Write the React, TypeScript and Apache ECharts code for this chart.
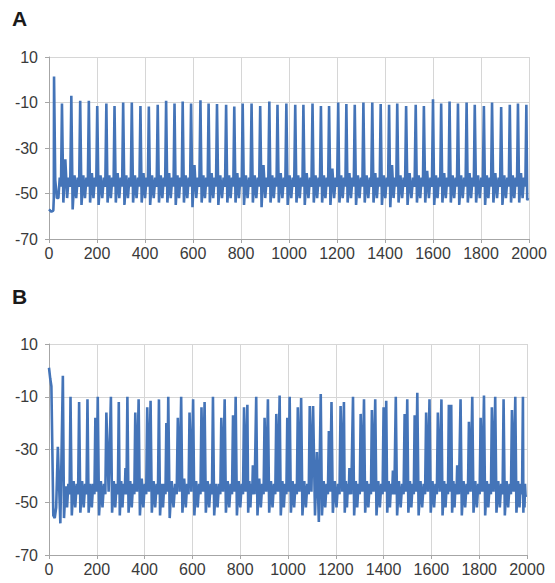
import React, { useEffect, useRef } from "react";
import * as echarts from "echarts";

// ---- axes ----
const X_MIN = 0;
const X_MAX = 2000;
const X_STEP = 200;
const Y_TICKS = [-70, -50, -30, -10, 10];
const Y_OFFSET = 70; // plotted value = mV + 70 so ticks start at a multiple of the step

// ---- panel A ----
const onsetTA = [0, 10, 18, 20];
const onsetVA = [-57, -58, -57.5, -52];
const spikeTA = [21, 54, 93, 130, 166, 201, 239, 273, 309, 345, 381, 416, 453, 488, 523, 557, 592, 631, 665, 700, 738, 772, 807, 844, 880, 918, 952, 989, 1026, 1060, 1098, 1133, 1167, 1205, 1239, 1274, 1310, 1347, 1382, 1417, 1451, 1488, 1528, 1562, 1600, 1634, 1669, 1704, 1740, 1774, 1812, 1846, 1884, 1920, 1954, 1989];
const spikePeakA = [1.4, -10.4, -7, -9.2, -9.2, -11.5, -10.4, -11.5, -10, -10, -11.5, -11.8, -11, -9.2, -10.4, -9.6, -10.4, -9, -10.4, -10.7, -11, -11.8, -10.4, -10.4, -11.5, -9.6, -11, -10.4, -11, -11, -10.4, -11.5, -11.5, -10, -10.7, -11, -10, -10, -10.7, -11, -10.4, -11.5, -11, -11.5, -8.6, -10.4, -9.6, -10.4, -10, -11, -11.5, -10, -12, -11, -10.4, -11];
const troughA = [-44, -54, -57, -55, -54, -55, -54, -54, -55, -54, -54, -55, -54, -54, -55, -54, -56, -54, -54, -55, -54, -54, -55, -54, -56, -54, -54, -55, -54, -55, -54, -54, -55, -54, -54, -55, -54, -54, -55, -56, -54, -55, -54, -54, -55, -54, -54, -55, -54, -54, -55, -54, -55, -54, -54, -53];
const bumpA: (number | null)[] = [-52, -35, -42, -42, -41, -42, -42, -41, -42, -42, -41, -42, -42, -41, -42, -42, -37.5, -42, -41, -42, -42, -41, -42, -42, -37.5, -42, -41, -42, -42, -41, -42, -42, -39, -42, -41, -42, -42, -41, -42, -37.5, -42, -41, -42, -40, -42, -41, -42, -42, -41, -42, -42, -41, -42, -42, -41, null];
const endA: [number, number] = [1996, -52];

// ---- panel B ----
const onsetTB = [0, 5, 10, 14, 18, 24, 30];
const onsetVB = [1, -3, -6, -30, -55, -56, -52];
const spikeTB = [37, 58, 90, 126, 161, 194, 204, 240, 259, 292, 320, 328, 361, 375, 411, 425, 460, 491, 499, 539, 553, 588, 603, 638, 651, 686, 721, 735, 770, 781, 816, 830, 853, 867, 902, 916, 951, 965, 997, 1007, 1041, 1055, 1091, 1105, 1121, 1137, 1171, 1182, 1220, 1234, 1257, 1272, 1304, 1318, 1351, 1365, 1400, 1411, 1439, 1451, 1488, 1499, 1530, 1541, 1578, 1592, 1627, 1642, 1673, 1683, 1708, 1722, 1757, 1771, 1806, 1820, 1853, 1867, 1902, 1937, 1951, 1983];
const spikePeakB = [-29, -2, -10, -12, -11, -18, -10, -16, -10, -12, -37, -10, -16, -11, -14, -11.5, -11, -20, -10, -18, -10, -16, -11, -14, -12, -10, -18, -11, -17, -10, -14, -13, -36, -10, -18, -11, -16.5, -9.5, -18, -10, -14, -10.5, -13.5, -13.5, -31, -9, -23, -12, -13.5, -12, -37, -10, -16.5, -11, -15, -11, -14, -11.5, -38, -10, -16.5, -11, -17, -8.5, -16, -11, -16, -11, -13, -13, -36, -11, -19.5, -10, -18, -9.5, -14, -10, -11, -15, -10, -10];
const troughB = [-58, -56, -55, -54, -54, -46, -55, -46, -54, -55, -47, -54, -46, -55, -46, -54, -55, -46, -56, -46, -54, -46, -55, -46, -54, -55, -46, -54, -46, -55, -46, -54, -47, -55, -46, -54, -46, -55, -46, -54, -46, -55, -46, -55, -57.5, -55, -46, -54, -46, -54, -47, -55, -46, -54, -46, -55, -46, -54, -47, -55, -46, -54, -46, -55, -46, -54, -46, -55, -46, -54, -47, -55, -46, -54, -46, -55, -46, -54, -55, -46, -54, -54];
const bumpB: (number | null)[] = [null, -44, -42, -42, -43, null, -42, null, -42, -42, null, -42, null, -41, null, -42, -43, null, -42, null, -41, null, -42, null, -42, -43, null, -42, null, -42, null, -42, null, -41, null, -42, null, -42, null, -42, null, -42, null, null, null, -42, null, -42, null, -42, null, -42, null, -42, null, -42, null, -42, null, -42, null, -42, null, -42, null, -42, null, -42, null, -42, null, -42, null, -42, null, -42, null, -42, -42, null, -42, -43];
const endB: [number, number] = [1995, -48];

// shape of the sub-threshold part of a cycle (fractions of the inter-spike gap)
const DIP_V = -52;
const BUMP2_V = -43;
const PRE_V = -47;

function buildTrace(
  onsetT: number[],
  onsetV: number[],
  spikeT: number[],
  peak: number[],
  trough: number[],
  bump: (number | null)[],
  end: [number, number]
): [number, number][] {
  const pts: [number, number][] = [];
  onsetT.forEach((t, i) => pts.push([t, onsetV[i] + Y_OFFSET]));
  spikeT.forEach((t, i) => {
    const next = i + 1 < spikeT.length ? spikeT[i + 1] : end[0];
    const g = next - t;
    pts.push([t, peak[i] + Y_OFFSET]);
    const b = bump[i];
    if (b == null) {
      pts.push([t + g * 0.5, trough[i] + Y_OFFSET]);
    } else {
      pts.push([t + g * 0.15, trough[i] + Y_OFFSET]);
      pts.push([t + g * 0.36, b + Y_OFFSET]);
      pts.push([t + g * 0.55, DIP_V + Y_OFFSET]);
      pts.push([t + g * 0.72, BUMP2_V + Y_OFFSET]);
      pts.push([t + g * 0.88, PRE_V + Y_OFFSET]);
    }
  });
  pts.push([end[0], end[1] + Y_OFFSET]);
  return pts;
}

const FONT = "'Liberation Sans', Arial, sans-serif";
const LINE_COLOR = "#4474b8";
const GRID_COLOR = "#d6d6d6";
const AXIS_COLOR = "#a6a6a6";
const LABEL_COLOR = "#3a3a3a";

export default function App() {
  const ref = useRef<HTMLDivElement>(null);
  useEffect(() => {
    if (!ref.current) return;
    const chart = echarts.init(ref.current, undefined, { renderer: "svg" });
    const dataA = buildTrace(onsetTA, onsetVA, spikeTA, spikePeakA, troughA, bumpA, endA);
    const dataB = buildTrace(onsetTB, onsetVB, spikeTB, spikePeakB, troughB, bumpB, endB);
    const yMin = Y_TICKS[0] + Y_OFFSET;
    const yMax = Y_TICKS[Y_TICKS.length - 1] + Y_OFFSET;
    const yStep = Y_TICKS[1] - Y_TICKS[0];
    const mkX = (gi: number) => ({
      type: "value" as const,
      gridIndex: gi,
      min: X_MIN,
      max: X_MAX,
      interval: X_STEP,
      axisLine: { show: true, lineStyle: { color: AXIS_COLOR, width: 1 } },
      axisTick: { show: true, length: 4, lineStyle: { color: AXIS_COLOR } },
      axisLabel: {
        fontSize: 16,
        color: LABEL_COLOR,
        margin: 6,
        fontFamily: FONT,
        formatter: (v: number) => String(v),
      },
      splitLine: { show: true, lineStyle: { color: GRID_COLOR, width: 1 } },
    });
    const mkY = (gi: number) => ({
      type: "value" as const,
      gridIndex: gi,
      min: yMin,
      max: yMax,
      interval: yStep,
      axisLine: { show: true, lineStyle: { color: AXIS_COLOR, width: 1 } },
      axisTick: { show: true, length: 4, lineStyle: { color: AXIS_COLOR } },
      axisLabel: {
        fontSize: 16,
        color: LABEL_COLOR,
        margin: 11,
        fontFamily: FONT,
        formatter: (v: number) => String(v - Y_OFFSET),
      },
      splitLine: { show: true, lineStyle: { color: GRID_COLOR, width: 1 } },
    });
    chart.setOption({
      animation: false,
      backgroundColor: "#ffffff",
      grid: [
        { left: 49, top: 57, width: 480, height: 182 },
        { left: 49, top: 344, width: 478, height: 211 },
      ],
      xAxis: [mkX(0), mkX(1)],
      yAxis: [mkY(0), mkY(1)],
      graphic: [
        { type: "text", left: 12, top: 8, style: { text: "A", font: `bold 21px ${FONT}`, fill: "#1a1a1a" } },
        { type: "text", left: 12, top: 286, style: { text: "B", font: `bold 21px ${FONT}`, fill: "#1a1a1a" } },
      ],
      series: [
        {
          type: "line",
          xAxisIndex: 0,
          yAxisIndex: 0,
          data: dataA,
          showSymbol: false,
          symbol: "none",
          lineStyle: { color: LINE_COLOR, width: 2.6 },
          clip: true,
        },
        {
          type: "line",
          xAxisIndex: 1,
          yAxisIndex: 1,
          data: dataB,
          showSymbol: false,
          symbol: "none",
          lineStyle: { color: LINE_COLOR, width: 2.6 },
          clip: true,
        },
      ],
    });
    return () => chart.dispose();
  }, []);
  return (
    <div
      ref={ref}
      style={{ position: "fixed", left: 0, top: 0, width: 555, height: 583, background: "#fff" }}
    />
  );
}
